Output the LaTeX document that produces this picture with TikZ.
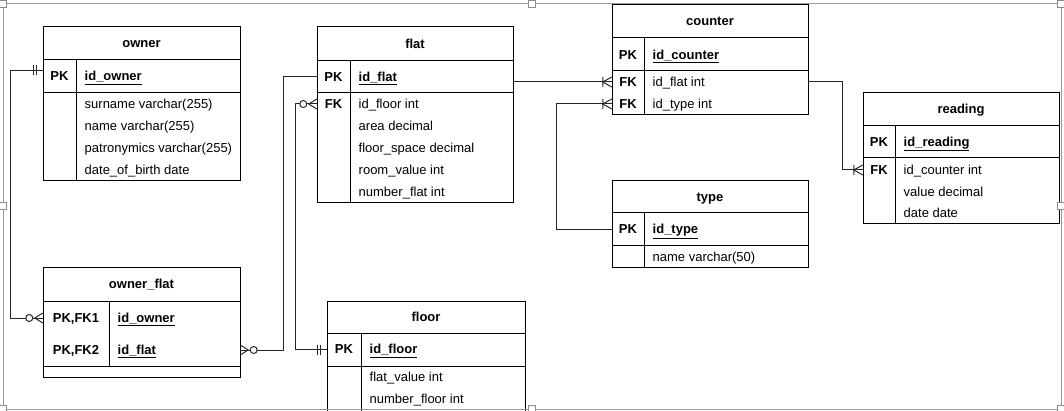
\documentclass[tikz,border=0pt]{standalone}
\usepackage{fontspec}
\setmainfont{Liberation Sans}
\begin{document}
\begin{tikzpicture}
[x=1pt,y=-1pt,
  every node/.style={font=\fontsize{13}{15}\selectfont},%
  tablebox/.style={draw=black,line width=1pt},%
  samebox/.style={text height=9.5pt,text depth=3pt},%
  headtext/.style={samebox,font=\fontsize{13}{15}\selectfont\bfseries,yshift=-1pt},%
  keytext/.style={samebox,font=\fontsize{13}{15}\selectfont\bfseries,yshift=-1pt},%
  fieldtext/.style={samebox,anchor=west,inner sep=0pt,xshift=8.5pt,yshift=-1pt},%
  pkfieldtext/.style={fieldtext,font=\fontsize{13}{15}\selectfont\bfseries},%
  rowspan/.style={minimum width=#1,minimum height=10pt,inner sep=0pt},%
  relline/.style={draw=black!85,line width=1pt},%
  framebox/.style={draw=black!40,line width=1pt},%
  handle/.style={draw=black!45,fill=white,line width=0.8pt},%
  pics/markone/.style={code={\draw[relline] (6,-5) -- (6,5) (9,-5) -- (9,5);}},%
  pics/markonemany/.style={code={\draw[relline] (0,-5) -- (9,0) -- (0,5) (9,-5) -- (9,5);}},%
  pics/markzeromany/.style={code={\draw[relline] (0,-5) -- (8,0) -- (0,5);
    \draw[relline,fill=white] (13.5,0) circle (3.5);}}]
\clip (0,0) rectangle (1064,411);
%% tables: name/left/top/right/head line/key line/bottom/divider/divider end
\foreach \tname/\tl/\tt/\tr/\th/\tk/\tb/\td/\tde in {
  owner/43/27/240/60/93/181/76/181, flat/317/27/513/61/93/203/350/203,
  counter/612/5/808/38/71/115/644/115, reading/863/93/1059/126/158/224/895/224,
  type/612/181/808/213/246/268/644/268, owner\_flat/43/268/240/301/366/377/109/366,
  floor/327/301/525/333/366/412/361/412} {
  \draw[tablebox] (\tl,\tt) rectangle (\tr,\tb);
  \draw[tablebox] (\tl,\th) -- (\tr,\th) (\tl,\tk) -- (\tr,\tk) (\td,\th) -- (\td,\tde);
  \node at ({(\tl+\tr)/2},{(\tt+\th)/2}) [headtext] {\tname};
}
%% key column
\foreach \kx/\ky/\key in {
  59.5/76.5/PK, 333.5/77/PK, 333.5/104/FK, 628/55/PK, 628/82/FK,
  628/104/FK, 879/142/PK, 879/170/FK, 628/229.5/PK, 76/318/{PK,FK1},
  76/350/{PK,FK2}, 344/349.5/PK} {
  \node at (\kx,\ky) [keytext] {\key};
}
%% primary key fields
\foreach \fx/\fy/\field in {
  76/76.5/id\_owner, 350/77/id\_flat, 644/55/id\_counter, 895/142/id\_reading,
  644/229.5/id\_type, 109/318/id\_owner, 109/350/id\_flat, 361/349.5/id\_floor} {
  \node at (\fx,\fy) [pkfieldtext] {\underline{\field}};
}
%% other fields
\foreach \fx/\fy/\field in {
  76/104/surname varchar(255), 76/126/name varchar(255),
  76/148/patronymics varchar(255), 76/170/date\_of\_birth date,
  350/104/id\_floor int, 350/126/area decimal, 350/148/floor\_space decimal,
  350/170/room\_value int, 350/192/number\_flat int,
  644/82/id\_flat int, 644/104/id\_type int,
  895/170/id\_counter int, 895/192/value decimal, 895/213.5/date date,
  644/257/name varchar(50), 361/377/flat\_value int, 361/399/number\_floor int} {
  \node at (\fx,\fy) [fieldtext] {\field};
}
%% rows that relations attach to
\foreach \rowname/\cx/\cy/\w in {
  owner-pk/141.5/76.5/197, ownerflat-pk1/141.5/318/197,
  ownerflat-pk2/141.5/350/197, flat-pk/415/77/196, flat-fk/415/104/196,
  floor-pk/426/349.5/198, counter-fk1/710/82/196, counter-fk2/710/104/196,
  type-pk/710/229.5/196, reading-fk/961/170/196} {
  \node (\rowname) at (\cx,\cy) [rowspan=\w pt] {};
}
%% relations
\draw[relline] ([yshift=6pt]owner-pk.west) -- ++(-32,0) |- (ownerflat-pk1.west);
\draw[relline] (flat-pk.west) -- ++(-33,0) |- (ownerflat-pk2.east);
\draw[relline] (flat-fk.west) -- ++(-21,0) |- (floor-pk.west);
\draw[relline] (flat-pk.east |- counter-fk1.west) -- (counter-fk1.west);
\draw[relline] (type-pk.west) -- ++(-55,0) |- (counter-fk2.west);
\draw[relline] (counter-fk1.east) -- ++(34,0) |- (reading-fk.west);
\pic[rotate=180] at ([yshift=6pt]owner-pk.west) {markone};
\pic[rotate=180] at (ownerflat-pk1.west) {markzeromany};
\pic at (ownerflat-pk2.east) {markzeromany};
\pic[rotate=180] at (flat-fk.west) {markzeromany};
\pic[rotate=180] at (floor-pk.west) {markone};
\foreach \target in {counter-fk1, counter-fk2, reading-fk} {
  \pic[rotate=180] at (\target.west) {markonemany};
}
%% selection frame
\draw[framebox] (3,4) rectangle (1061,409);
\foreach \hx/\hy in {3/4, 532/4, 1061/4, 3/206, 1061/206, 3/409, 532/409, 1061/409} {
  \draw[handle] (\hx-3.5,\hy-3.5) rectangle ++(7,7);
}
\end{tikzpicture}
\end{document}
